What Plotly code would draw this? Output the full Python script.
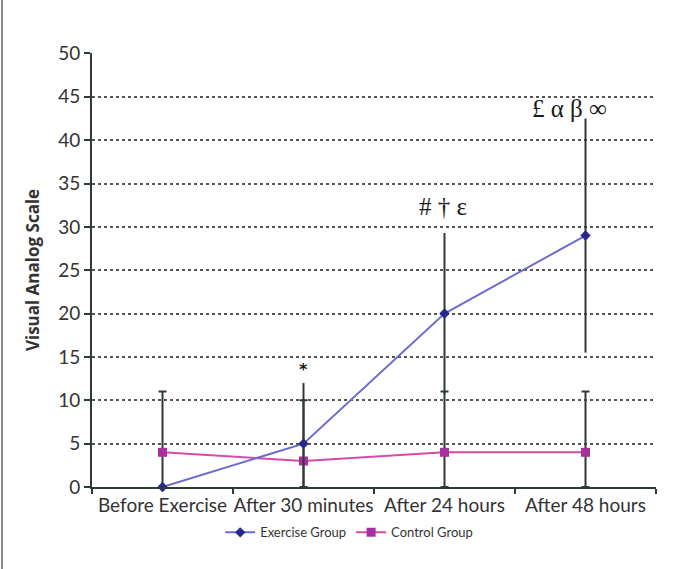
import plotly.graph_objects as go

categories = ["Before Exercise", "After 30 minutes", "After 24 hours", "After 48 hours"]
exercise = [0, 5, 20, 29]
exercise_err_plus = [0, 7, 9.3, 13.5]
exercise_err_minus = [0, 5, 9.3, 13.5]
control = [4, 3, 4, 4]
control_err_plus = [7, 7, 7, 7]
control_err_minus = [4, 3, 4, 4]
annot_text = ["*", "# † ε", "£ α β ∞"]
annot_x = ["After 30 minutes", "After 24 hours", "After 48 hours"]
annot_y = [13.6, 32.3, 43.6]
annot_shift = [0, -2, -16]

FONT = "Lato, 'Open Sans', sans-serif"
ERR = "#2f3b3b"

fig = go.Figure()
fig.add_trace(go.Scatter(
    x=categories, y=control, name="Control Group", mode="lines+markers",
    line=dict(color="#d84aa8", width=2),
    marker=dict(symbol="square", size=9, color="#a8309e"),
    error_y=dict(type="data", array=control_err_plus, arrayminus=control_err_minus,
                 color=ERR, thickness=2, width=4),
    cliponaxis=False,
))
fig.add_trace(go.Scatter(
    x=categories, y=exercise, name="Exercise Group", mode="lines+markers",
    line=dict(color="#6b6bd0", width=2),
    marker=dict(symbol="diamond", size=8, color="#28288a"),
    error_y=dict(type="data", array=exercise_err_plus, arrayminus=exercise_err_minus,
                 color=ERR, thickness=2, width=0),
    cliponaxis=False,
))

for t, xv, yv, sh in zip(annot_text, annot_x, annot_y, annot_shift):
    serif = t != "*"
    fig.add_annotation(
        x=xv, y=yv, text=t if serif else "<b>*</b>", showarrow=False, xshift=sh,
        font=dict(family="'Liberation Serif', 'DejaVu Serif', serif" if serif else "DejaVu Sans",
                  size=25 if serif else 16, color="#1a1a1a"),
    )

fig.add_shape(type="line", xref="paper", yref="paper", x0=-90 / 564, x1=-90 / 564,
              y0=-0.3, y1=1.3, line=dict(color="#8a8a8a", width=2))

fig.update_layout(
    width=682, height=569,
    margin=dict(l=92, r=26, t=53, b=82, autoexpand=False),
    paper_bgcolor="white", plot_bgcolor="white",
    font=dict(family=FONT, color="#333"),
    showlegend=True,
    legend=dict(orientation="h", x=0.456, xanchor="center", y=-0.07, yanchor="top",
                font=dict(size=13, color="#333"), traceorder="reversed",
                itemwidth=30, tracegroupgap=0),
    xaxis=dict(
        type="category", range=[-0.5, 3.5], showline=True, linecolor=ERR, linewidth=2,
        ticks="outside", tickson="boundaries", ticklen=5, tickcolor=ERR, tickwidth=2,
        tickangle=0, tickfont=dict(size=19, color="#333"), showgrid=False, zeroline=False,
    ),
    yaxis=dict(
        range=[0, 50.05], tickvals=[0, 5, 10, 15, 20, 25, 30, 35, 40, 45, 50],
        showline=True, linecolor=ERR, linewidth=2,
        ticks="outside", ticklen=6, tickcolor=ERR, tickwidth=2,
        tickfont=dict(size=19, color="#333"),
        showgrid=True, gridcolor="#555", griddash="dot", gridwidth=2, zeroline=False,
        title=dict(text="<b>Visual Analog Scale</b>",
                   font=dict(family="'Open Sans', sans-serif", size=17, color="#333"), standoff=14),
    ),
)

fig.write_html(
    "out.html",
    config={"displayModeBar": False},
    post_script=(
        "var s=document.createElement('style');"
        "s.textContent='html,body{margin:0;padding:0;overflow:hidden;scrollbar-width:none;}"
        "::-webkit-scrollbar{display:none;width:0;height:0;}';"
        "document.head.appendChild(s);"
    ),
)
